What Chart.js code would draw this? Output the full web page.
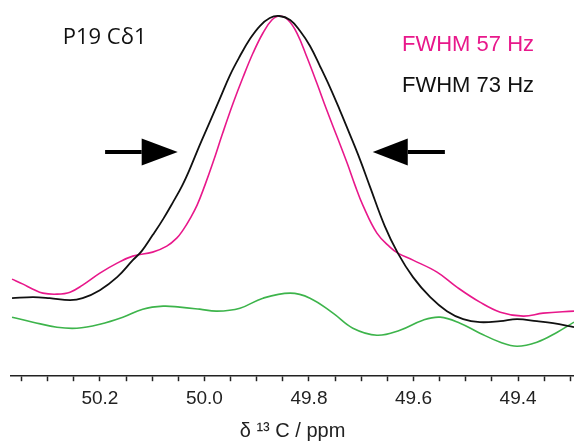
<!DOCTYPE html>
<html>
<head>
<meta charset="utf-8">
<script src="https://cdn.jsdelivr.net/npm/chart.js@4.4.1/dist/chart.umd.min.js"></script>
<style>
  html, body { margin: 0; padding: 0; background: #fff; }
  #wrap { width: 574px; height: 443px; }
</style>
</head>
<body>
<div id="wrap"><canvas id="nmrChart"></canvas></div>
<script>
// chemical shift (ppm) and intensity
const blackPpm = [50.368, 50.328, 50.296, 50.257, 50.233, 50.200, 50.167, 50.137, 50.120, 50.099, 50.079, 50.060, 50.043, 50.028, 50.009, 49.989, 49.970, 49.951, 49.932, 49.913, 49.894, 49.875, 49.857, 49.836, 49.817, 49.798, 49.779, 49.760, 49.741, 49.722, 49.702, 49.683, 49.655, 49.630, 49.601, 49.568, 49.536, 49.505, 49.473, 49.434, 49.402, 49.364, 49.333, 49.293];
const blackInt = [77, 78, 77, 75, 77, 85, 98, 115, 124, 140, 156, 173, 189, 206, 230, 254, 277, 300, 319, 336, 349, 357, 359, 355, 344, 329, 309, 288, 265, 241, 215, 188, 149, 122, 98, 78, 64, 56, 53, 54, 56, 54, 52, 48];

const pinkPpm = [50.368, 50.347, 50.328, 50.309, 50.282, 50.257, 50.233, 50.200, 50.167, 50.137, 50.099, 50.072, 50.053, 50.041, 50.028, 50.014, 49.999, 49.984, 49.965, 49.945, 49.926, 49.907, 49.888, 49.871, 49.856, 49.840, 49.823, 49.804, 49.785, 49.766, 49.746, 49.727, 49.712, 49.697, 49.670, 49.645, 49.630, 49.601, 49.555, 49.517, 49.473, 49.434, 49.390, 49.352, 49.293];
const pinkInt = [96, 91, 86, 82, 81, 83, 90, 102, 112, 119, 123, 129, 137, 145, 156, 170, 190, 212, 242, 272, 298, 322, 342, 355, 359, 355, 342, 318, 292, 265, 238, 212, 190, 170, 142, 128, 122, 115, 103, 88, 73, 63, 59, 62, 64];

const greenPpm = [50.368, 50.328, 50.282, 50.244, 50.200, 50.156, 50.118, 50.079, 50.047, 50.009, 49.976, 49.932, 49.888, 49.836, 49.798, 49.754, 49.716, 49.670, 49.626, 49.582, 49.549, 49.511, 49.473, 49.434, 49.402, 49.364, 49.325, 49.293];
const greenInt = [58, 53, 48, 47, 51, 58, 66, 69, 68, 66, 64, 67, 77, 82, 77, 62, 47, 40, 45, 55, 58, 52, 42, 33, 29, 33, 43, 53];

const tickValues = [49.30, 49.35, 49.40, 49.45, 49.50, 49.55, 49.60, 49.65, 49.70, 49.75, 49.80, 49.85, 49.90, 49.95, 50.00, 50.05, 50.10, 50.15, 50.20, 50.25, 50.30, 50.35];
const tickLabels = ['50.2', '50.0', '49.8', '49.6', '49.4'];

const toPoints = (xs, ys) => xs.map((x, i) => ({ x: x, y: ys[i] }));

// arrows and labels placed in data units
const arrows = [
    { tail: 50.190, base: 50.120, tip: 50.051, y: 223 },
    { tail: 49.540, base: 49.611, tip: 49.678, y: 223 }
];
const notes = [
    { text: 'P19 Cδ1', x: 50.271, y: 337, color: '#111', font: '22px "Open Sans"' },
    { text: 'FWHM 57 Hz', x: 49.622, y: 330, color: '#e8188b', font: '22px "Liberation Sans"' },
    { text: 'FWHM 73 Hz', x: 49.622, y: 289, color: '#111', font: '22px "Liberation Sans"' }
];

const overlay = {
    id: 'overlay',
    afterDatasetsDraw(chart) {
        const ctx = chart.ctx;
        const xs = chart.scales.x, ys = chart.scales.y;
        ctx.save();
        ctx.fillStyle = '#000';
        ctx.strokeStyle = '#000';
        ctx.lineWidth = 4;
        arrows.forEach(a => {
            const y = ys.getPixelForValue(a.y);
            const half = 13.5;
            ctx.beginPath();
            ctx.moveTo(xs.getPixelForValue(a.tail), y);
            ctx.lineTo(xs.getPixelForValue(a.base), y);
            ctx.stroke();
            ctx.beginPath();
            ctx.moveTo(xs.getPixelForValue(a.tip), y);
            ctx.lineTo(xs.getPixelForValue(a.base), y - half);
            ctx.lineTo(xs.getPixelForValue(a.base), y + half);
            ctx.closePath();
            ctx.fill();
        });
        ctx.textBaseline = 'middle';
        ctx.textAlign = 'left';
        notes.forEach(n => {
            ctx.font = n.font;
            ctx.fillStyle = n.color;
            ctx.fillText(n.text, xs.getPixelForValue(n.x), ys.getPixelForValue(n.y));
        });
        ctx.restore();
    }
};

const ctx = document.getElementById('nmrChart').getContext('2d');
const nmrChart = new Chart(ctx, {
    type: 'line',
    data: {
        datasets: [
            {
                label: 'FWHM 73 Hz',
                data: toPoints(blackPpm, blackInt),
                borderColor: '#111111',
                borderWidth: 1.8,
                pointRadius: 0,
                tension: 0.4
            },
            {
                label: 'FWHM 57 Hz',
                data: toPoints(pinkPpm, pinkInt),
                borderColor: '#e8188b',
                borderWidth: 1.6,
                pointRadius: 0,
                tension: 0.4
            },
            {
                label: 'difference',
                data: toPoints(greenPpm, greenInt),
                borderColor: '#3db44b',
                borderWidth: 1.6,
                pointRadius: 0,
                tension: 0.4
            }
        ]
    },
    options: {
        responsive: true,
        maintainAspectRatio: false,
        animation: false,
        layout: {
            padding: { left: 11, right: 0, top: 10, bottom: 0 }
        },
        plugins: {
            legend: { display: false },
            tooltip: { enabled: false }
        },
        scales: {
            x: {
                type: 'linear',
                reverse: true,
                min: 49.293,
                max: 50.370,
                afterBuildTicks: axis => {
                    axis.ticks = tickValues.map(v => ({ value: v }));
                },
                border: { color: '#222', width: 1.5 },
                grid: {
                    drawOnChartArea: false,
                    drawTicks: true,
                    tickLength: 5,
                    tickColor: '#222',
                    tickWidth: 1.5
                },
                ticks: {
                    autoSkip: false,
                    maxRotation: 0,
                    padding: 6,
                    color: '#222',
                    font: { family: '"Liberation Sans"', size: 19 },
                    callback: v => {
                        const s = Number(v).toFixed(1);
                        return (tickLabels.includes(s) && Math.abs(v * 10 - Math.round(v * 10)) < 1e-6) ? s : '';
                    }
                },
                title: {
                    display: true,
                    text: 'δ ¹³ C / ppm',
                    color: '#222',
                    font: { family: '"Liberation Sans"', size: 20 },
                    padding: { top: 3, bottom: 0 }
                }
            },
            y: {
                display: false,
                min: -1,
                max: 365
            }
        }
    },
    plugins: [overlay]
});
</script>
</body>
</html>
